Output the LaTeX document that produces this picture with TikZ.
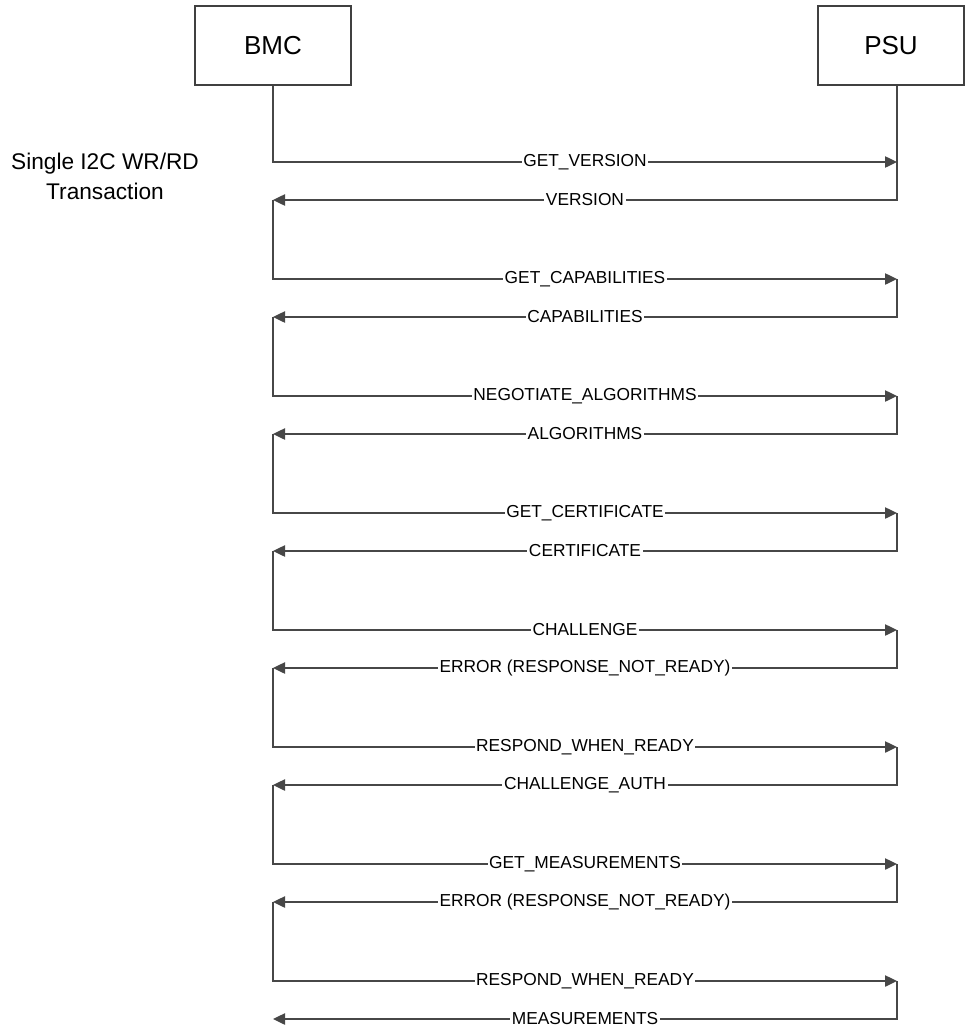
\documentclass[tikz,border=0pt]{standalone}
\usepackage{fontspec}
\setmainfont{Liberation Sans}
\usetikzlibrary{
  arrows.meta,
  positioning,
  calc,
}

\begin{document}
\begin{tikzpicture}[
  x=0.75pt, y=-0.75pt,
  font=\fontsize{13}{15}\selectfont,
  every node/.style={align=center},
  party/.style={draw=black!75, line width=0.9pt, minimum height=59.25pt,
    font=\fontsize{19.5}{22}\selectfont},
  msg/.style={draw=black!72, line width=1pt,
    -{Triangle[length=9pt, width=8.5pt]}},
  lifeline/.style={draw=black!72, line width=1pt},
  msglabel/.style={fill=white, inner xsep=1.2pt, inner ysep=1pt},
  note/.style={font=\fontsize{17}{22.5}\selectfont},
]
\useasboundingbox (0,0) rectangle (965,1032);

\node[party, minimum width=117pt] (bmc) at (273,45.5) {BMC};
\node[party, minimum width=109.5pt] (psu) at (891,45.5) {PSU};

\node[note] (single) at (105,176) {Single I2C WR/RD\\Transaction};

%% message coordinates on the two lifelines
\coordinate (rsp0) at (bmc.south);
\foreach \i in {1,...,8} {
  \pgfmathsetmacro\yreq{162+117*(\i-1)}
  \coordinate (req\i) at (897,\yreq);
  \coordinate (rsp\i) at (273,{\yreq+38});
}

\draw[lifeline] (psu.south -| req1) -- (req1);

%% request / response pairs
\foreach \req/\rsp [count=\i] in {
    GET\_VERSION/VERSION,
    GET\_CAPABILITIES/CAPABILITIES,
    NEGOTIATE\_ALGORITHMS/ALGORITHMS,
    GET\_CERTIFICATE/CERTIFICATE,
    CHALLENGE/ERROR (RESPONSE\_NOT\_READY),
    RESPOND\_WHEN\_READY/CHALLENGE\_AUTH,
    GET\_MEASUREMENTS/ERROR (RESPONSE\_NOT\_READY),
    RESPOND\_WHEN\_READY/MEASUREMENTS} {
  \pgfmathtruncatemacro\prev{\i-1}
  \draw[msg] (rsp\prev) |- (req\i)
    node[msglabel, pos=0.75] (reqlbl\i) {\req};
  \draw[msg] (req\i) |- (rsp\i)
    node[msglabel, pos=0.75] (rsplbl\i) {\rsp};
}

\end{tikzpicture}
\end{document}
